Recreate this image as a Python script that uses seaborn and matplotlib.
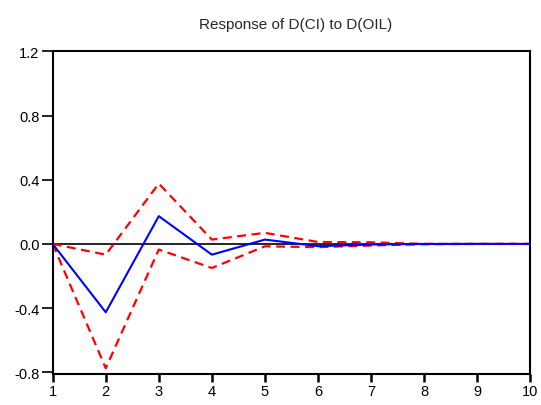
import matplotlib
matplotlib.use("Agg")
import matplotlib.pyplot as plt
import seaborn as sns
import pandas as pd

periods = [1, 2, 3, 4, 5, 6, 7, 8, 9, 10]
response = [0.0, -0.426, 0.173, -0.067, 0.027, -0.014, -0.004, 0.0, 0.0, 0.0]
upper = [0.0, -0.067, 0.376, 0.027, 0.069, 0.012, 0.010, 0.0, 0.0, 0.0]
lower = [0.0, -0.775, -0.035, -0.150, -0.015, -0.020, -0.010, -0.002, 0.0, 0.0]
yticks = [-0.8, -0.4, 0.0, 0.4, 0.8, 1.2]
ytick_labels = ["-0.8", "-0.4", "0.0", "0.4", "0.8", "1.2"]
title = "Response of D(CI) to D(OIL)"

sns.set_theme(style="ticks")
plt.rcParams['font.family'] = ['Liberation Sans', 'DejaVu Sans']

df = pd.DataFrame({"period": periods, "response": response, "upper": upper, "lower": lower})

fig = plt.figure(figsize=(5.41, 4.06), dpi=100)
ax = fig.add_axes([0.0974, 0.0764, 0.8826, 0.7946])

ax.axhline(0, color="black", lw=1.2, zorder=1)
sns.lineplot(data=df, x="period", y="upper", ax=ax, color="#ff0000", lw=1.6,
             dashes=False, linestyle=(0, (4, 2.5)), zorder=2)
sns.lineplot(data=df, x="period", y="lower", ax=ax, color="#ff0000", lw=1.6,
             dashes=False, linestyle=(0, (4, 2.5)), zorder=2)
sns.lineplot(data=df, x="period", y="response", ax=ax, color="#0000ff", lw=1.5, zorder=3)

ax.set_xlim(1, 10)
ax.set_ylim(-0.8106, 1.2)
ax.set_xticks(periods)
ax.set_xticklabels([str(p) for p in periods])
ax.set_yticks(yticks)
ax.set_yticklabels(ytick_labels)
ax.set_xlabel("")
ax.set_ylabel("")
ax.tick_params(axis="both", direction="out", labelsize=10.5, colors="black")
ax.tick_params(axis="x", length=6, width=1.8, pad=1.5)
ax.tick_params(axis="y", length=8, width=1.2, pad=1.5)
for s in ax.spines.values():
    s.set_visible(True)
    s.set_linewidth(1.5)
    s.set_color("black")
ax.set_title(title, fontsize=11, pad=17, x=0.508)

fig.savefig("out.png", dpi=100)
